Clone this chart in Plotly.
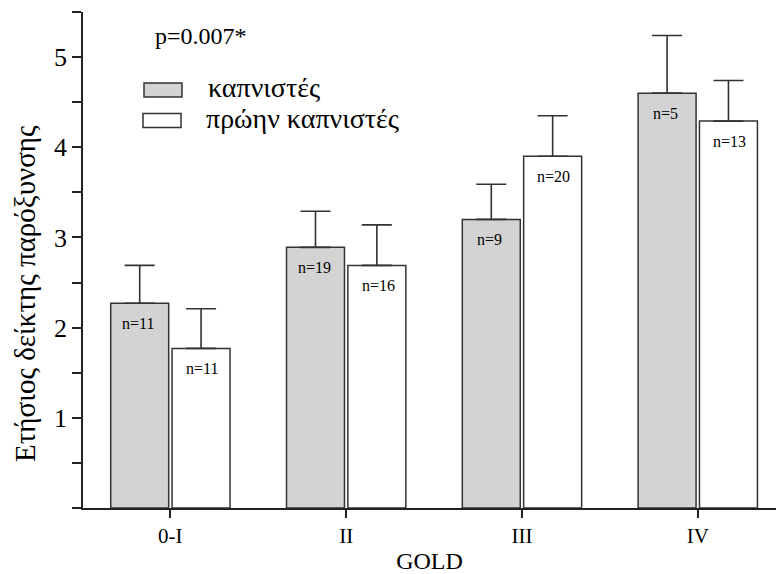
import plotly.graph_objects as go

categories = ["0-I", "II", "III", "IV"]
smokers = [2.27, 2.89, 3.20, 4.60]
smokers_err = [0.42, 0.40, 0.39, 0.64]
smokers_n = ["n=11", "n=19", "n=9", "n=5"]
ex_smokers = [1.77, 2.69, 3.90, 4.29]
ex_smokers_err = [0.44, 0.45, 0.45, 0.45]
ex_smokers_n = ["n=11", "n=16", "n=20", "n=13"]
y_ticks = [0, 1, 2, 3, 4, 5]
y_ticktext = ["", "1", "2", "3", "4", "5"]
y_minor = [0.5, 1.5, 2.5, 3.5, 4.5, 5.5]

FONT = "Liberation Serif"
EDGE = "#333333"

fig = go.Figure()
fig.add_trace(go.Bar(
    x=categories, y=smokers, name="καπνιστές",
    marker=dict(color="#d3d3d3", line=dict(color=EDGE, width=1.5)),
    error_y=dict(type="data", symmetric=False, array=smokers_err,
                 arrayminus=[0] * len(smokers), color=EDGE, thickness=1.6, width=15),
    showlegend=False,
))
fig.add_trace(go.Bar(
    x=categories, y=ex_smokers, name="πρώην καπνιστές",
    marker=dict(color="white", line=dict(color=EDGE, width=1.5)),
    error_y=dict(type="data", symmetric=False, array=ex_smokers_err,
                 arrayminus=[0] * len(ex_smokers), color=EDGE, thickness=1.6, width=15),
    showlegend=False,
))

# n labels inside bars
for i, c in enumerate(categories):
    fig.add_annotation(x=c, y=smokers[i], xshift=-32, yshift=-20, text=smokers_n[i],
                       showarrow=False, font=dict(family=FONT, size=16, color="black"))
    fig.add_annotation(x=c, y=ex_smokers[i], xshift=32, yshift=-20, text=ex_smokers_n[i],
                       showarrow=False, font=dict(family=FONT, size=16, color="black"))

W, H = 776, 574
L, R, T, B = 83, 0, 12, 66
pw, ph = W - L - R, H - T - B


def px(x):
    return (x - L) / pw


def py(y):
    return 1 - (y - T) / ph


# legend boxes
fig.add_shape(type="rect", xref="paper", yref="paper",
              x0=px(144), x1=px(182), y0=py(97), y1=py(83),
              fillcolor="#d3d3d3", line=dict(color=EDGE, width=1.5))
fig.add_shape(type="rect", xref="paper", yref="paper",
              x0=px(143), x1=px(181), y0=py(127.5), y1=py(113.5),
              fillcolor="white", line=dict(color=EDGE, width=1.5))
fig.add_annotation(xref="paper", yref="paper", x=px(206), y=py(87), xanchor="left",
                   yanchor="middle", text="καπνιστές", showarrow=False,
                   font=dict(family=FONT, size=28, color="black"))
fig.add_annotation(xref="paper", yref="paper", x=px(204), y=py(118), xanchor="left",
                   yanchor="middle", text="πρώην καπνιστές", showarrow=False,
                   font=dict(family=FONT, size=28, color="black"))
fig.add_annotation(xref="paper", yref="paper", x=px(153), y=py(36), xanchor="left",
                   yanchor="middle", text="p=0.007*", showarrow=False,
                   font=dict(family=FONT, size=24, color="black"))
# y-axis title
fig.add_annotation(xref="paper", yref="paper", x=px(25), y=py(294), xanchor="center",
                   yanchor="middle", textangle=-90, text="Ετήσιος δείκτης παρόξυνσης",
                   showarrow=False, font=dict(family=FONT, size=29, color="black"))

fig.update_layout(
    width=W, height=H,
    margin=dict(l=L, r=R, t=T, b=B, pad=0),
    paper_bgcolor="white", plot_bgcolor="white",
    barmode="group", bargap=0.302, bargroupgap=0.055,
    font=dict(family=FONT, color="black"),
    showlegend=False,
)
fig.update_xaxes(
    range=[-0.497, 3.445], showgrid=False, zeroline=False,
    showline=True, linecolor="#222", linewidth=1.6,
    ticks="outside", ticklen=8, tickwidth=1.6, tickcolor="#222",
    tickfont=dict(family=FONT, size=21, color="black"),
    title=dict(text="GOLD", font=dict(family=FONT, size=24, color="black"), standoff=8),
)
fig.update_yaxes(
    range=[0, 5.5], showgrid=False, zeroline=False,
    showline=True, linecolor="#222", linewidth=1.6,
    tickmode="array", tickvals=y_ticks, ticktext=y_ticktext,
    ticks="outside", ticklen=9, tickwidth=1.6, tickcolor="#222",
    tickfont=dict(family=FONT, size=26, color="black"),
    minor=dict(tickmode="array", tickvals=y_minor, ticks="outside", ticklen=9,
               tickwidth=1.6, tickcolor="#222", showgrid=False),
)

fig.write_html("out.html")
